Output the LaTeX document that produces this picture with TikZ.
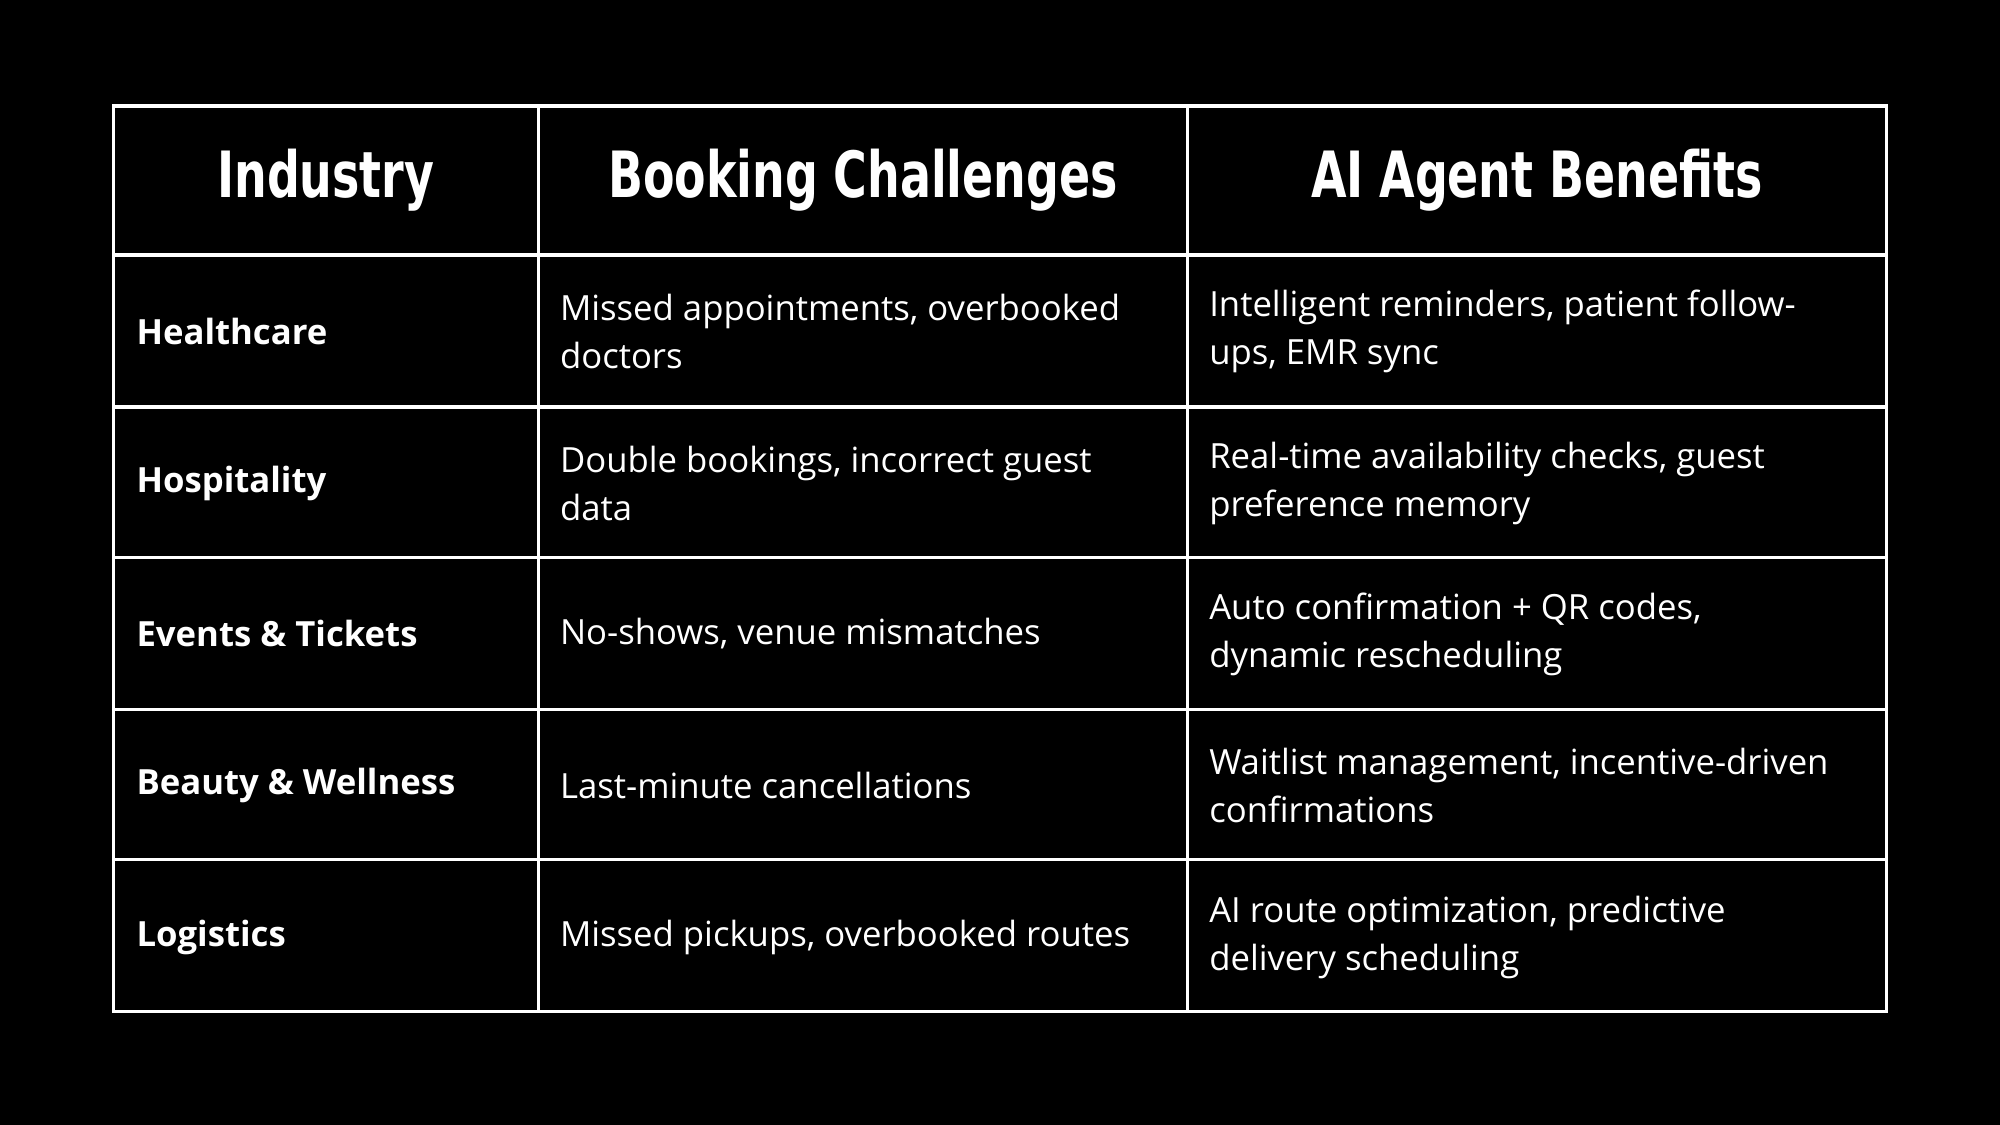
\documentclass[tikz,border=0pt]{standalone}
\usepackage{fontspec}
\setmainfont{Open Sans}
\newfontfamily\headfont{DejaVu Sans Condensed}
\begin{document}
\begin{tikzpicture}[x=0.5pt,y=-0.5pt,
  grid/.style={draw=white,line width=1.3pt},
  head/.style={text=white,font=\headfont\bfseries\fontsize{25}{28}\selectfont},
  cell/.style={text=white,anchor=west,align=left,font=\fontsize{13.6}{18.8}\selectfont},
  ind/.style={cell,font=\bfseries\fontsize{13.6}{18.8}\selectfont}]
\fill[black] (0,0) rectangle (1568,882);
\useasboundingbox (0,0) rectangle (1568,882);
\draw[grid] (89,83) rectangle (1479,793);
\foreach \x in {422,931} \draw[grid] (\x,83) -- (\x,793);
\foreach \y in {200,319,437,556,674} \draw[grid] (89,\y) -- (1479,\y);
\node[head] (h1) at (255.5,141) {\scalebox{0.8}[1]{Industry}};
\node[head] (h2) at (676.5,141) {\scalebox{0.8}[1]{Booking Challenges}};
\node[head] (h3) at (1205,141) {\scalebox{0.8}[1]{AI Agent Benefits}};
\node[ind] (a1) at (100,260) {Healthcare};
\node[ind] (a2) at (100,379) {Hospitality};
\node[ind] (a3) at (100,497) {Events \& Tickets};
\node[ind] (a4) at (100,616) {Beauty \& Wellness};
\node[ind] (a5) at (100,735) {Logistics};
\node[cell] (b1) at (432,260) {Missed appointments, overbooked\\doctors};
\node[cell] (b2) at (432,379) {Double bookings, incorrect guest\\data};
\node[cell] (b3) at (432,497) {No-shows, venue mismatches};
\node[cell] (b4) at (432,616) {Last-minute cancellations};
\node[cell] (b5) at (432,735) {Missed pickups, overbooked routes};
\node[cell] (c1) at (941,260) {Intelligent reminders, patient follow-\\ups, EMR sync};
\node[cell] (c2) at (941,379) {Real-time availability checks, guest\\preference memory};
\node[cell] (c3) at (941,497) {Auto confirmation + QR codes,\\dynamic rescheduling};
\node[cell] (c4) at (941,616) {Waitlist management, incentive-driven\\confirmations};
\node[cell] (c5) at (941,735) {AI route optimization, predictive\\delivery scheduling};
\end{tikzpicture}
\end{document}
